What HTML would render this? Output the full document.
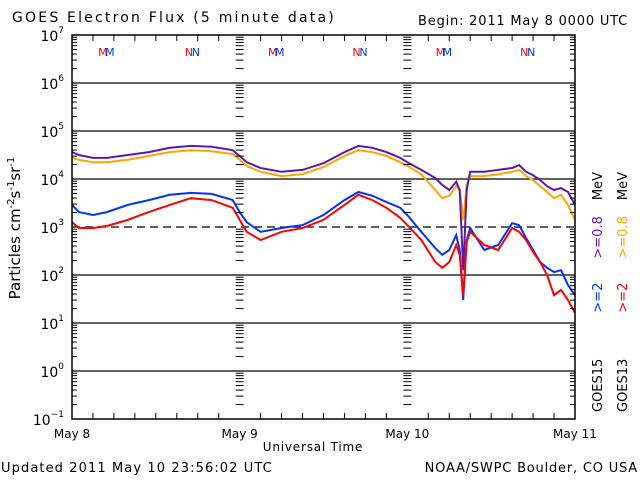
<!DOCTYPE html>
<html><head><meta charset="utf-8"><style>
body{margin:0;background:#fff}
svg{display:block;font-family:"DejaVu Sans","Liberation Sans",sans-serif}
</style></head><body>
<svg id="chart" width="640" height="480" viewBox="0 0 640 480">
<rect width="640" height="480" fill="#fff"/>
<text x="12" y="22" font-size="14" letter-spacing="2.2">GOES Electron Flux (5 minute data)</text>
<text x="628" y="25" font-size="13" letter-spacing="0.8" text-anchor="end">Begin: 2011 May 8 0000 UTC</text>
<g id="grid"></g>
<g id="series"></g>
<g id="axes"></g>
<text x="313" y="451" font-size="12" letter-spacing="0.8" text-anchor="middle">Universal Time</text>
<text transform="translate(20,228) rotate(-90)" font-size="15" text-anchor="middle">Particles cm<tspan font-size="10" dy="-6">-2</tspan><tspan dy="6">s</tspan><tspan font-size="10" dy="-6">-1</tspan><tspan dy="6">sr</tspan><tspan font-size="10" dy="-6">-1</tspan></text>
<g font-size="13">
<text transform="translate(602,412) rotate(-90)"><tspan fill="#000">GOES15</tspan><tspan dx="46" fill="#0033ff">&gt;=2</tspan><tspan dx="24" fill="#6a0dad">&gt;=0.8</tspan><tspan dx="16" fill="#000">MeV</tspan></text>
<text transform="translate(627,412) rotate(-90)"><tspan fill="#000">GOES13</tspan><tspan dx="46" fill="#ff0000">&gt;=2</tspan><tspan dx="24" fill="#ffa500">&gt;=0.8</tspan><tspan dx="16" fill="#000">MeV</tspan></text>
</g>
<text x="1" y="472" font-size="13" letter-spacing="1.1">Updated 2011 May 10 23:56:02 UTC</text>
<text x="638" y="472" font-size="13" letter-spacing="0.8" text-anchor="end">NOAA/SWPC Boulder, CO USA</text>
</svg>
<script>
const hours=[0,1,3,5,8,11,14,17,20,23,24,25,27,30,33,36,39,41,43,45,47,48,50,52,53,54,55,55.5,56,56.5,57,59,61,63,64,65,66,67,68,69,70,71,72];
const g15Low=[4.56,4.50,4.44,4.44,4.50,4.56,4.65,4.69,4.67,4.60,4.48,4.35,4.23,4.15,4.19,4.33,4.56,4.69,4.65,4.56,4.44,4.35,4.19,4.02,3.875,3.77,3.94,3.77,2.10,3.77,4.15,4.15,4.19,4.23,4.29,4.15,4.08,3.98,3.85,3.77,3.81,3.73,3.46];
const g13Low=[4.44,4.40,4.35,4.35,4.40,4.48,4.56,4.60,4.58,4.52,4.40,4.27,4.15,4.06,4.10,4.25,4.48,4.60,4.56,4.48,4.35,4.27,4.10,3.77,3.60,3.65,3.85,3.77,3.15,3.875,4.06,4.06,4.10,4.15,4.19,4.06,3.98,3.85,3.73,3.60,3.67,3.46,3.15];
const g15High=[3.46,3.31,3.25,3.31,3.46,3.56,3.67,3.71,3.69,3.56,3.31,3.10,2.90,2.98,3.04,3.25,3.56,3.73,3.65,3.52,3.40,3.25,2.90,2.56,2.42,2.52,2.83,2.52,1.48,2.73,2.98,2.52,2.625,3.08,3.04,2.77,2.52,2.27,2.15,2.06,2.10,1.79,1.58];
const g13High=[3.10,2.98,2.98,3.02,3.15,3.31,3.46,3.60,3.56,3.40,3.15,2.90,2.73,2.90,2.98,3.15,3.46,3.67,3.56,3.40,3.19,3.04,2.73,2.27,2.15,2.27,2.625,2.42,1.58,2.69,2.90,2.625,2.52,2.98,2.90,2.73,2.48,2.27,2.00,1.58,1.69,1.48,1.21];
const decades=[-1,0,1,2,3,4,5,6,7];
const dayLabels=["May 8","May 9","May 10","May 11"];
const flagLabels=[[5,"M"],[17.3,"N"],[29.3,"M"],[41.3,"N"],[53.3,"M"],[65.3,"N"]];

const NS="http://www.w3.org/2000/svg";
const L=72,R=575,T=35,B=419;
const xS=h=>L+h/72*(R-L);
const yS=v=>B-(v+1)/8*(B-T);
function mk(tag,attrs,parent){const e=document.createElementNS(NS,tag);for(const k in attrs)e.setAttribute(k,attrs[k]);parent.appendChild(e);return e;}
const grid=document.getElementById('grid'),axes=document.getElementById('axes'),ser=document.getElementById('series');
decades.forEach(d=>{
  if(d>-1&&d<7){const ln=mk('line',{x1:L,x2:R,y1:yS(d),y2:yS(d),stroke:'#000','stroke-width':1.3},grid);
    
    
    if(d===3)ln.setAttribute('stroke-dasharray','8,5');}
  const t=mk('text',{x:L-8,y:yS(d)+6,'font-size':14,'text-anchor':'end'},axes);
  
  
  t.innerHTML='10<tspan font-size="9" dy="-8">'+(d<0?'−1':d)+'</tspan>';
  if(d<7){for(let m=2;m<=9;m++){const y=yS(d+Math.log10(m));
    [[L,L+5],[R-5,R],[xS(24)-4,xS(24)+4],[xS(48)-4,xS(48)+4]].forEach(p=>{
      const tk=mk('line',{x1:p[0],x2:p[1],y1:y,y2:y,stroke:'#000','stroke-width':1},axes);
      
      });}}
});
for(let h=0;h<=72;h+=3){const x=xS(h),len=(h%24===0)?0:6;
  [[B,B-len],[T,T+len]].forEach(p=>{const tk=mk('line',{x1:x,x2:x,y1:p[0],y2:p[1],stroke:'#000','stroke-width':1},axes);
    
    });}
dayLabels.forEach((s,i)=>{const t=mk('text',{x:xS(i*24),y:438,'font-size':12,'text-anchor':'middle'},axes);
  
  
  t.textContent=s;});
flagLabels.forEach(f=>{
  const a=mk('text',{x:xS(f[0])-4,y:56,'font-size':11,fill:'#ff0000','text-anchor':'middle'},axes);
  
  
  a.textContent=f[1];
  const b=mk('text',{x:xS(f[0])+3,y:56,'font-size':11,fill:'#0033ff','text-anchor':'middle'},axes);
  
  
  b.textContent=f[1];});
const frame=mk('rect',{x:L,y:T,width:R-L,height:B-T,fill:'none',stroke:'#000','stroke-width':1.5},axes);


function line(vals,color,name){
  let d='';vals.forEach((v,i)=>{d+=(i?'L':'M')+xS(hours[i]).toFixed(1)+','+yS(v).toFixed(1);});
  const p=mk('path',{d:d,fill:'none',stroke:color,'stroke-width':2,'stroke-linejoin':'miter'},ser);
  
  }
line(g13Low,'#ffa500','goes13-0.8mev-line');
line(g15Low,'#5a1aa8','goes15-0.8mev-line');
line(g15High,'#0033ff','goes15-2mev-line');
line(g13High,'#ff0000','goes13-2mev-line');
</script>
</body></html>
